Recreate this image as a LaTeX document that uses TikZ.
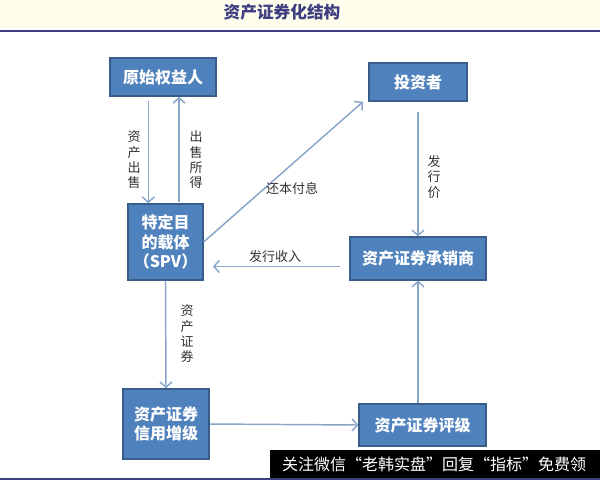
\documentclass[tikz,border=0pt]{standalone}
\usepackage{fontspec}
\setmainfont{Noto Sans CJK SC}
\usetikzlibrary{arrows.meta}
\definecolor{boxblue}{RGB}{79,129,189}
\definecolor{boxedge}{RGB}{56,93,138}
\definecolor{linkblue}{RGB}{138,165,202}
\definecolor{navy}{RGB}{62,62,128}
\definecolor{cream}{RGB}{255,253,236}
\tikzset{
  party/.style={draw=boxedge, line width=1.2pt, fill=boxblue, text=white,
    font=\fontsize{12}{14.5}\selectfont\bfseries, align=center, inner sep=0pt},
  link/.style={draw=linkblue, line width=1.1pt, -{Straight Barb[length=4pt,width=9pt]}},
  tag/.style={font=\fontsize{9.75}{11.5}\selectfont, text=black!80, align=center}
}
\begin{document}
\begin{tikzpicture}[x=0.75pt,y=-0.75pt]
 \useasboundingbox (0,0) rectangle (600,480);
 \fill[white] (0,0) rectangle (600,480);
 \fill[cream] (0,0) rectangle (600,28);
 \node[font=\fontsize{12.5}{14}\selectfont\bfseries, text=navy] (title) at (282,12) {资产证券化结构};
 \draw[navy, line width=1.5pt] (0,31) -- (600,31);
 \draw[navy, line width=1.5pt] (0,479) -- (600,479);

 \node[party, minimum width=79.5pt, minimum height=28.5pt] (orig) at (163,77) {原始权益人};
 \node[party, minimum width=56pt, minimum height=57pt] (spv) at (165.5,242) {特定目\\的载体\\（SPV）};
 \node[party, minimum width=73.5pt, minimum height=28.5pt] (inv) at (418,82) {投资者};
 \node[party, minimum width=102pt, minimum height=32pt] (und) at (418,258.5) {资产证券承销商};
 \node[party, minimum width=64.5pt, minimum height=52.5pt] (enh) at (166,424) {资产证券\\信用增级};
 \node[party, minimum width=95pt, minimum height=31.5pt] (rat) at (422.5,425) {资产证券评级};

 \draw[link, shorten <=3pt] ([xshift=-11pt]orig.south) -- ([xshift=-11pt]orig.south |- spv.north);
 \draw[link, shorten <=1pt] ([xshift=12pt]spv.north -| orig.south) -- ([xshift=12pt]orig.south);
 \draw[link] (spv.east) -- ([shift={(-4pt,0pt)}]inv.south west);
 \draw[link, shorten <=8pt] (inv.south) -- (und.north);
 \draw[link, shorten <=7pt, shorten >=7pt] ([yshift=-6pt]und.west) -- ([yshift=-6pt]und.west -| spv.east);
 \draw[link] (spv.south) -- (enh.north);
 \draw[link] (enh.east) -- (rat.west);
 \draw[link] (und.south |- rat.north) -- (und.south);

 \node[tag] (sell) at (134,160) {资\\产\\出\\售};
 \node[tag] (gain) at (196,160) {出\\售\\所\\得};
 \node[tag] (repay) at (292,188) {还本付息};
 \node[tag] (price) at (434,177) {发\\行\\价};
 \node[tag] (income) at (275,257) {发行收入};
 \node[tag] (sec) at (187,334) {资\\产\\证\\券};

 \fill[black] (270,450) rectangle (600,478);
 \node[text=white, font=\fontsize{12}{14}\selectfont] (mark) at (434,464) {关注微信“老韩实盘”回复“指标”免费领};
\end{tikzpicture}
\end{document}
